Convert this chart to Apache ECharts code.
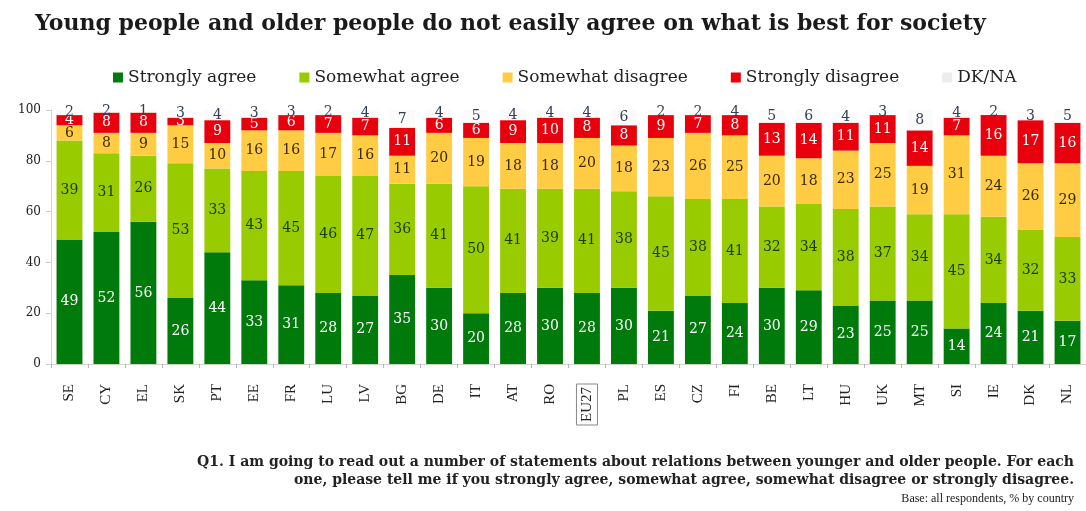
<!DOCTYPE html>
<html><head><meta charset="utf-8">
<script src="https://cdn.jsdelivr.net/npm/echarts@6/dist/echarts.min.js"></script>
<style>html,body{margin:0;padding:0;background:#fff}#c{width:1086px;height:511px}</style>
</head><body><div id="c"></div>
<script>
const countries = ['SE','CY','EL','SK','PT','EE','FR','LU','LV','BG','DE','IT','AT','RO','EU27','PL','ES','CZ','FI','BE','LT','HU','UK','MT','SI','IE','DK','NL'];
const stronglyAgree    = [49,52,56,26,44,33,31,28,27,35,30,20,28,30,28,30,21,27,24,30,29,23,25,25,14,24,21,17];
const somewhatAgree    = [39,31,26,53,33,43,45,46,47,36,41,50,41,39,41,38,45,38,41,32,34,38,37,34,45,34,32,33];
const somewhatDisagree = [6,8,9,15,10,16,16,17,16,11,20,19,18,18,20,18,23,26,25,20,18,23,25,19,31,24,26,29];
const stronglyDisagree = [4,8,8,3,9,5,6,7,7,11,6,6,9,10,8,8,9,7,8,13,14,11,11,14,7,16,17,16];
const dkna             = [2,2,1,3,4,3,3,2,4,7,4,5,4,4,4,6,2,2,4,5,6,4,3,8,4,2,3,5];
const yTicks = [0,20,40,60,80,100];

const serif = '"DejaVu Serif", "Liberation Serif", serif';
const times = '"Liberation Serif", serif';
const chart = echarts.init(document.getElementById('c'));
function s(name, data, color, labelColor) {
  return {
    name, type: 'bar', stack: 'a', data, barCategoryGap: '30%',
    itemStyle: { color },
    label: { show: true, position: 'inside', color: labelColor, fontFamily: serif, fontSize: 14 }
  };
}
chart.setOption({
  animation: false,
  title: {
    text: 'Young people and older people do not easily agree on what is best for society',
    left: 30, top: 8,
    textStyle: { fontFamily: serif, fontWeight: 'bold', fontSize: 22, color: '#1a1a1a' }
  },
  legend: {
    top: 64, left: 108, itemGap: 43, itemWidth: 10, itemHeight: 10,
    icon: 'rect',
    textStyle: { fontFamily: serif, fontSize: 17, color: '#222' },
    data: ['Strongly agree','Somewhat agree','Somewhat disagree','Strongly disagree',
      { name: 'DK/NA', itemStyle: { color: '#ececec' } }]
  },
  grid: { left: 51, right: -9, top: 110, bottom: 147 },
  xAxis: {
    type: 'category', data: countries,
    axisLine: { lineStyle: { color: '#cfd8c8' } },
    axisTick: { show: true, lineStyle: { color: '#c8a8d8' }, length: 4 },
    axisLabel: {
      rotate: 90, margin: 20, fontFamily: times, fontSize: 15, color: '#222',
      formatter: v => v === 'EU27' ? '{b|' + v + '}' : v,
      rich: { b: { borderColor: '#888', borderWidth: 1, padding: [3,3,3,3], fontFamily: times, fontSize: 15, color: '#222' } }
    }
  },
  yAxis: {
    type: 'value', min: 0, max: 100, interval: 20,
    axisLine: { show: true, lineStyle: { color: '#cfd8c8' } },
    axisTick: { show: true, lineStyle: { color: '#cccccc' } },
    splitLine: { show: false },
    axisLabel: { fontFamily: serif, fontSize: 12, color: '#222', margin: 10,
      formatter: v => yTicks.includes(v) ? String(v) : '' }
  },
  series: [
    s('Strongly agree', stronglyAgree, '#007a0b', '#ffffff'),
    s('Somewhat agree', somewhatAgree, '#99cc00', '#1a3a00'),
    s('Somewhat disagree', somewhatDisagree, '#ffcc44', '#3a2a00'),
    s('Strongly disagree', stronglyDisagree, '#e8000d', '#ffffff'),
    s('DK/NA', dkna, '#fbfbfb', '#334055')
  ],
  graphic: [
    { type: 'text', right: 12, top: 455, style: { text: 'Q1. I am going to read out a number of statements about relations between younger and older people. For each', font: 'bold 14px ' + serif, fill: '#222', textAlign: 'right' } },
    { type: 'text', right: 12, top: 473, style: { text: 'one, please tell me if you strongly agree, somewhat agree, somewhat disagree or strongly disagree.', font: 'bold 14px ' + serif, fill: '#222', textAlign: 'right' } },
    { type: 'text', right: 12, top: 493, style: { text: 'Base: all respondents, % by country', font: '12px ' + times, fill: '#222', textAlign: 'right' } }
  ]
});
</script></body></html>
